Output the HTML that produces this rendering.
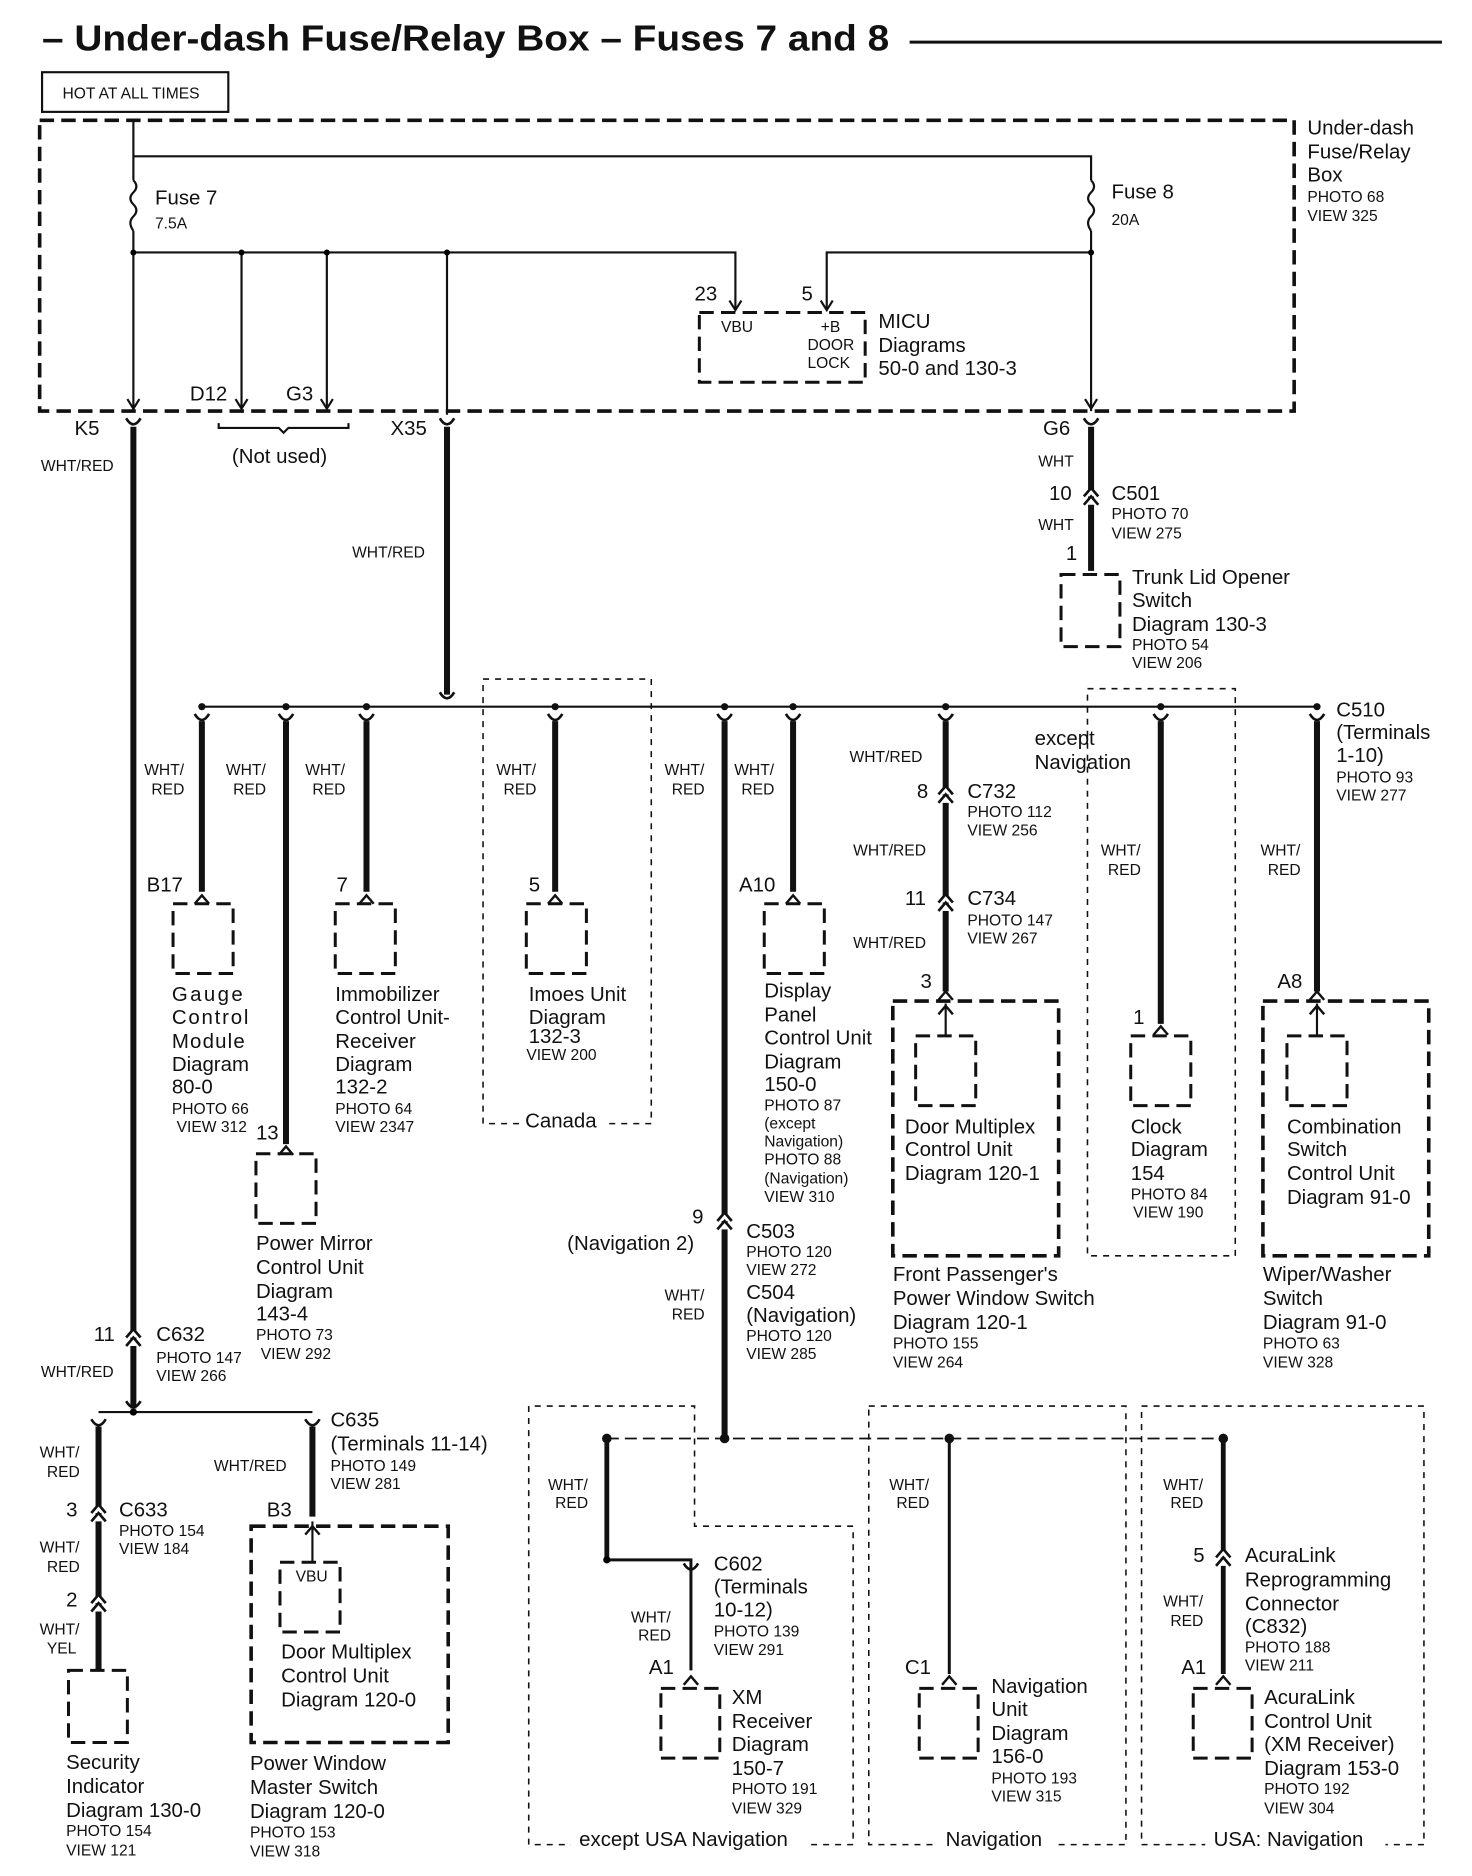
<!DOCTYPE html>
<html><head><meta charset="utf-8"><style>
html,body{margin:0;padding:0;background:#fff}
svg{display:block}
text{font-family:"Liberation Sans",sans-serif;fill:#111}
.t{font-size:17px}.s{font-size:13px}.w{font-size:13px}
.th{stroke:#111;stroke-width:5;fill:none}
.tn{stroke:#111;stroke-width:1.8;fill:none}
.db{stroke:#111;stroke-width:3;fill:none;stroke-dasharray:12 6}
.dd{stroke:#111;stroke-width:1.3;fill:none;stroke-dasharray:5 5}
</style></head><body>
<svg width="1472" height="1876" viewBox="0 0 1225 1561" xmlns="http://www.w3.org/2000/svg">
<defs>
<g id="up"><path d="M-6,4 L0,-3 L6,4" stroke="#111" stroke-width="2" fill="none"/></g>
<g id="dbl"><path d="M-6,1 L0,-6 L6,1 M-6,8 L0,1 L6,8" stroke="#111" stroke-width="2.2" fill="#fff"/></g>
<g id="top"><path d="M-6,-4 Q0,6 6,-4" stroke="#111" stroke-width="2.2" fill="none"/></g>
<g id="arr"><path d="M-5,-8 L0,0 L5,-8" stroke="#111" stroke-width="1.8" fill="none"/></g>
</defs>
<text x="35" y="42" style="font-size:30px;font-weight:bold" textLength="705" lengthAdjust="spacingAndGlyphs">– Under-dash Fuse/Relay Box – Fuses 7 and 8</text>
<line x1="757" y1="35" x2="1200" y2="35" stroke="#111" stroke-width="2.5"/>
<rect x="35" y="60" width="155" height="33" fill="none" stroke="#111" stroke-width="1.8"/>
<text x="52" y="82" class="s">HOT AT ALL TIMES</text>
<rect x="33" y="100" width="1044" height="242" class="db"/>
<text x="1088" y="112" class="t">Under-dash</text><text x="1088" y="132" class="t">Fuse/Relay</text><text x="1088" y="151" class="t">Box</text>
<text x="1088" y="168" class="s">PHOTO 68</text><text x="1088" y="184" class="s">VIEW 325</text>
<path d="M111,100 V150 M111,192 V342 M111,130 H908 V150 M908,192 V342" class="tn"/>
<path d="M111,150 q5,5 0,10 q-5,5 0,10 q5,5 0,10 q-5,5 0,12" class="tn"/>
<path d="M908,150 q5,5 0,10 q-5,5 0,10 q5,5 0,10 q-5,5 0,12" class="tn"/>
<text x="129" y="170" class="t">Fuse 7</text><text x="129" y="190" class="s">7.5A</text>
<text x="925" y="165" class="t">Fuse 8</text><text x="925" y="187" class="s">20A</text>
<path d="M111,210 H372 M201,210 V340 M272,210 V340 M372,210 V345 M372,210 H612 V258 M908,210 H688 V258" class="tn"/>
<circle cx="111" cy="210" r="2.5"/><circle cx="201" cy="210" r="2.5"/><circle cx="272" cy="210" r="2.5"/><circle cx="372" cy="210" r="2.5"/><circle cx="908" cy="210" r="2.5"/>
<use href="#arr" x="111" y="340"/><use href="#arr" x="201" y="340"/><use href="#arr" x="272" y="340"/><use href="#arr" x="908" y="340"/>
<use href="#arr" x="612" y="258"/><use href="#arr" x="688" y="258"/>
<rect x="582" y="260" width="138" height="58" class="db" style="stroke-width:2.5"/>
<text x="578" y="250" class="t">23</text><text x="667" y="250" class="t">5</text>
<text x="600" y="276" class="s">VBU</text><text x="683" y="276" class="s">+B</text><text x="672" y="291" class="s">DOOR</text><text x="672" y="306" class="s">LOCK</text>
<text x="731" y="273" class="t">MICU</text><text x="731" y="293" class="t">Diagrams</text><text x="731" y="312" class="t">50-0 and 130-3</text>
<text x="62" y="362" class="t">K5</text><text x="158" y="333" class="t">D12</text><text x="238" y="333" class="t">G3</text>
<path d="M182,352 v4 h50 l4,4 l4,-4 h50 v-4" class="tn"/>
<text x="193" y="385" class="t">(Not used)</text>
<text x="325" y="362" class="t">X35</text><text x="868" y="362" class="t">G6</text>
<use href="#top" x="111" y="352"/><use href="#top" x="372" y="352"/><use href="#top" x="908" y="352"/>
<path d="M111,355 V1172 M372,355 V578 M908,355 V475" class="th"/>
<text x="34" y="392" class="w">WHT/RED</text><text x="293" y="464" class="w">WHT/RED</text>
<text x="864" y="388" class="w">WHT</text><text x="873" y="416" class="t">10</text><use href="#dbl" x="908" y="412"/>
<text x="925" y="416" class="t">C501</text><text x="925" y="432" class="s">PHOTO 70</text><text x="925" y="448" class="s">VIEW 275</text>
<text x="864" y="441" class="w">WHT</text><text x="887" y="466" class="t">1</text>
<rect x="883" y="478" width="49" height="60" class="db" style="stroke-width:2.5"/>
<text x="942" y="486" class="t">Trunk Lid Opener</text><text x="942" y="505" class="t">Switch</text><text x="942" y="525" class="t">Diagram 130-3</text><text x="942" y="541" class="s">PHOTO 54</text><text x="942" y="556" class="s">VIEW 206</text>
<line x1="168" y1="588" x2="1096" y2="588" stroke="#111" stroke-width="1.8"/>
<use href="#top" x="372" y="580"/>
<g fill="#111"><circle cx="168" cy="588" r="3"/><circle cx="238" cy="588" r="3"/><circle cx="305" cy="588" r="3"/><circle cx="462" cy="588" r="3"/><circle cx="603" cy="588" r="3"/><circle cx="660" cy="588" r="3"/><circle cx="787" cy="588" r="3"/><circle cx="966" cy="588" r="3"/><circle cx="1096" cy="588" r="3"/></g>
<rect x="402" y="565" width="140" height="370" class="dd"/>
<rect x="905" y="573" width="123" height="472" class="dd"/>
<g>
<use href="#top" x="168" y="598"/><use href="#top" x="238" y="598"/><use href="#top" x="305" y="598"/><use href="#top" x="462" y="598"/><use href="#top" x="603" y="598"/><use href="#top" x="660" y="598"/><use href="#top" x="787" y="598"/><use href="#top" x="966" y="598"/><use href="#top" x="1096" y="598"/>
</g>
<path d="M168,600 V742 M238,600 V952 M305,600 V742 M462,600 V742 M603,600 V1197 M660,600 V742 M787,600 V825 M966,600 V852 M1096,600 V825" class="th"/>
<g>
<use href="#up" x="168" y="748"/><use href="#up" x="238" y="957"/><use href="#up" x="305" y="748"/><use href="#up" x="462" y="748"/><use href="#up" x="660" y="748"/><use href="#up" x="787" y="828"/><use href="#up" x="966" y="857"/><use href="#up" x="1096" y="828"/>
</g>
<text x="120" y="645" class="w">WHT/</text><text x="126" y="661" class="w">RED</text>
<text x="188" y="645" class="w">WHT/</text><text x="194" y="661" class="w">RED</text>
<text x="254" y="645" class="w">WHT/</text><text x="260" y="661" class="w">RED</text>
<text x="413" y="645" class="w">WHT/</text><text x="419" y="661" class="w">RED</text>
<text x="553" y="645" class="w">WHT/</text><text x="559" y="661" class="w">RED</text>
<text x="611" y="645" class="w">WHT/</text><text x="617" y="661" class="w">RED</text>
<text x="122" y="742" class="t">B17</text><rect x="144" y="752" width="50" height="58" class="db" style="stroke-width:2.5"/>
<text x="143" y="833" class="t" style="letter-spacing:2px">Gauge</text><text x="143" y="852" class="t" style="letter-spacing:1.5px">Control</text><text x="143" y="872" class="t" style="letter-spacing:1px">Module</text><text x="143" y="891" class="t">Diagram</text><text x="143" y="910" class="t">80-0</text><text x="143" y="927" class="s">PHOTO 66</text><text x="147" y="942" class="s">VIEW 312</text>
<text x="213" y="948" class="t">13</text><rect x="213" y="960" width="50" height="58" class="db" style="stroke-width:2.5"/>
<text x="213" y="1040" class="t">Power Mirror</text><text x="213" y="1060" class="t">Control  Unit</text><text x="213" y="1080" class="t">Diagram</text><text x="213" y="1099" class="t">143-4</text><text x="213" y="1115" class="s">PHOTO 73</text><text x="217" y="1131" class="s">VIEW 292</text>
<text x="280" y="742" class="t">7</text><rect x="279" y="752" width="50" height="58" class="db" style="stroke-width:2.5"/>
<text x="279" y="833" class="t">Immobilizer</text><text x="279" y="852" class="t">Control Unit-</text><text x="279" y="872" class="t">Receiver</text><text x="279" y="891" class="t">Diagram</text><text x="279" y="910" class="t">132-2</text><text x="279" y="927" class="s">PHOTO 64</text><text x="279" y="942" class="s">VIEW 2347</text>
<text x="440" y="742" class="t">5</text><rect x="438" y="752" width="50" height="58" class="db" style="stroke-width:2.5"/>
<text x="440" y="833" class="t">Imoes Unit</text><text x="440" y="852" class="t">Diagram</text><text x="440" y="868" class="t">132-3</text><text x="438" y="882" class="s">VIEW 200</text>
<rect x="432" y="925" width="72" height="18" fill="#fff"/><text x="437" y="938" class="t">Canada</text>
<text x="615" y="742" class="t">A10</text><rect x="636" y="752" width="50" height="58" class="db" style="stroke-width:2.5"/>
<text x="636" y="830" class="t">Display</text><text x="636" y="850" class="t">Panel</text><text x="636" y="869" class="t">Control Unit</text><text x="636" y="889" class="t">Diagram</text><text x="636" y="908" class="t">150-0</text><text x="636" y="924" class="s">PHOTO 87</text><text x="636" y="939" class="s">(except</text><text x="636" y="954" class="s">Navigation)</text><text x="636" y="969" class="s">PHOTO 88</text><text x="636" y="985" class="s">(Navigation)</text><text x="636" y="1000" class="s">VIEW 310</text>
<use href="#dbl" x="603" y="1015"/>
<text x="576" y="1018" class="t">9</text><text x="472" y="1040" class="t">(Navigation 2)</text>
<text x="621" y="1030" class="t">C503</text><text x="621" y="1046" class="s">PHOTO 120</text><text x="621" y="1061" class="s">VIEW 272</text>
<text x="621" y="1081" class="t">C504</text><text x="621" y="1100" class="t">(Navigation)</text><text x="621" y="1116" class="s">PHOTO 120</text><text x="621" y="1131" class="s">VIEW 285</text>
<text x="553" y="1082" class="w">WHT/</text><text x="559" y="1098" class="w">RED</text>
<text x="707" y="634" class="w">WHT/RED</text><use href="#dbl" x="787" y="660"/>
<text x="763" y="664" class="t">8</text><text x="805" y="664" class="t">C732</text><text x="805" y="680" class="s">PHOTO 112</text><text x="805" y="695" class="s">VIEW 256</text>
<text x="710" y="712" class="w">WHT/RED</text><use href="#dbl" x="787" y="750"/>
<text x="753" y="753" class="t">11</text><text x="805" y="753" class="t">C734</text><text x="805" y="770" class="s">PHOTO 147</text><text x="805" y="785" class="s">VIEW 267</text>
<text x="710" y="789" class="w">WHT/RED</text><text x="766" y="822" class="t">3</text>
<rect x="743" y="833" width="138" height="212" class="db"/>
<rect x="762" y="862" width="50" height="58" class="db" style="stroke-width:2.5"/>
<path d="M787,862 V835" class="tn"/><use href="#up" x="787" y="840"/>
<text x="753" y="943" class="t">Door Multiplex</text><text x="753" y="962" class="t">Control Unit</text><text x="753" y="982" class="t">Diagram 120-1</text>
<text x="743" y="1066" class="t">Front Passenger's</text><text x="743" y="1086" class="t">Power Window Switch</text><text x="743" y="1106" class="t">Diagram 120-1</text><text x="743" y="1122" class="s">PHOTO 155</text><text x="743" y="1138" class="s">VIEW 264</text>
<text x="861" y="620" class="t">except</text><text x="861" y="640" class="t">Navigation</text>
<text x="916" y="712" class="w">WHT/</text><text x="922" y="728" class="w">RED</text>
<text x="943" y="852" class="t">1</text><rect x="941" y="862" width="50" height="58" class="db" style="stroke-width:2.5"/>
<text x="941" y="943" class="t">Clock</text><text x="941" y="962" class="t">Diagram</text><text x="941" y="982" class="t">154</text><text x="941" y="998" class="s">PHOTO 84</text><text x="943" y="1013" class="s">VIEW 190</text>
<text x="1112" y="596" class="t">C510</text><text x="1112" y="615" class="t">(Terminals</text><text x="1112" y="634" class="t">1-10)</text><text x="1112" y="651" class="s">PHOTO 93</text><text x="1112" y="666" class="s">VIEW 277</text>
<text x="1049" y="712" class="w">WHT/</text><text x="1055" y="728" class="w">RED</text>
<text x="1063" y="822" class="t">A8</text>
<rect x="1051" y="833" width="138" height="212" class="db"/>
<rect x="1071" y="862" width="50" height="58" class="db" style="stroke-width:2.5"/>
<path d="M1096,862 V835" class="tn"/><use href="#up" x="1096" y="840"/>
<text x="1071" y="943" class="t">Combination</text><text x="1071" y="962" class="t">Switch</text><text x="1071" y="982" class="t">Control Unit</text><text x="1071" y="1002" class="t">Diagram 91-0</text>
<text x="1051" y="1066" class="t">Wiper/Washer</text><text x="1051" y="1086" class="t">Switch</text><text x="1051" y="1106" class="t">Diagram 91-0</text><text x="1051" y="1122" class="s">PHOTO 63</text><text x="1051" y="1138" class="s">VIEW 328</text>
<use href="#dbl" x="111" y="1112"/>
<text x="78" y="1116" class="t">11</text><text x="130" y="1116" class="t">C632</text><text x="130" y="1134" class="s">PHOTO 147</text><text x="130" y="1149" class="s">VIEW 266</text>
<text x="34" y="1146" class="w">WHT/RED</text>
<path d="M82,1175 H260" class="tn"/><circle cx="111" cy="1175" r="3"/><use href="#top" x="111" y="1170"/>
<use href="#top" x="82" y="1185"/><use href="#top" x="260" y="1185"/>
<path d="M82,1187 V1390 M260,1187 V1262" class="th"/>
<text x="33" y="1213" class="w">WHT/</text><text x="39" y="1229" class="w">RED</text>
<use href="#dbl" x="82" y="1258"/><text x="55" y="1262" class="t">3</text>
<text x="99" y="1262" class="t">C633</text><text x="99" y="1278" class="s">PHOTO 154</text><text x="99" y="1293" class="s">VIEW 184</text>
<text x="33" y="1292" class="w">WHT/</text><text x="39" y="1308" class="w">RED</text>
<use href="#dbl" x="82" y="1333"/><text x="55" y="1337" class="t">2</text>
<text x="33" y="1360" class="w">WHT/</text><text x="39" y="1376" class="w">YEL</text>
<rect x="57" y="1390" width="49" height="60" class="db" style="stroke-width:2.5"/>
<text x="55" y="1472" class="t">Security</text><text x="55" y="1492" class="t">Indicator</text><text x="55" y="1512" class="t">Diagram 130-0</text><text x="55" y="1528" class="s">PHOTO 154</text><text x="55" y="1544" class="s">VIEW 121</text>
<text x="275" y="1187" class="t">C635</text><text x="275" y="1207" class="t">(Terminals 11-14)</text><text x="275" y="1224" class="s">PHOTO 149</text><text x="275" y="1239" class="s">VIEW 281</text>
<text x="178" y="1224" class="w">WHT/RED</text>
<text x="222" y="1262" class="t">B3</text>
<rect x="209" y="1270" width="164" height="180" class="db"/>
<rect x="233" y="1300" width="50" height="58" class="db" style="stroke-width:2.5"/>
<path d="M260,1300 V1266" class="tn"/><use href="#up" x="260" y="1273"/>
<text x="246" y="1316" class="s">VBU</text>
<text x="234" y="1380" class="t">Door Multiplex</text><text x="234" y="1400" class="t">Control Unit</text><text x="234" y="1420" class="t">Diagram 120-0</text>
<text x="208" y="1473" class="t">Power    Window</text><text x="208" y="1493" class="t">Master    Switch</text><text x="208" y="1513" class="t">Diagram 120-0</text><text x="208" y="1529" class="s">PHOTO 153</text><text x="208" y="1545" class="s">VIEW 318</text>
<line x1="505" y1="1197" x2="1018" y2="1197" stroke="#111" stroke-width="1.5" stroke-dasharray="10 5"/>
<g fill="#111"><circle cx="505" cy="1197" r="4"/><circle cx="603" cy="1197" r="4"/><circle cx="790" cy="1197" r="4"/><circle cx="1018" cy="1197" r="4"/></g>
<path d="M440,1535 V1170 H578 V1270 H710 V1535 Z" class="dd"/>
<rect x="723" y="1170" width="214" height="365" class="dd"/>
<rect x="950" y="1170" width="235" height="365" class="dd"/>
<rect x="475" y="1522" width="200" height="20" fill="#fff"/><text x="482" y="1536" class="t">except USA Navigation</text>
<rect x="780" y="1522" width="100" height="20" fill="#fff"/><text x="787" y="1536" class="t">Navigation</text>
<rect x="1003" y="1522" width="150" height="20" fill="#fff"/><text x="1010" y="1536" class="t">USA: Navigation</text>
<path d="M505,1197 V1298 M1018,1197 V1393" class="th" style="stroke-width:4"/>
<path d="M505,1298 H575 V1390 M790,1197 V1393" class="tn" style="stroke-width:2.5"/>
<circle cx="505" cy="1298" r="3"/>
<use href="#top" x="575" y="1305"/>
<use href="#up" x="575" y="1398"/><use href="#up" x="790" y="1398"/><use href="#up" x="1018" y="1398"/>
<text x="456" y="1240" class="w">WHT/</text><text x="462" y="1255" class="w">RED</text>
<text x="594" y="1307" class="t">C602</text><text x="594" y="1326" class="t">(Terminals</text><text x="594" y="1345" class="t">10-12)</text><text x="594" y="1362" class="s">PHOTO 139</text><text x="594" y="1377" class="s">VIEW 291</text>
<text x="525" y="1350" class="w">WHT/</text><text x="531" y="1365" class="w">RED</text>
<text x="540" y="1393" class="t">A1</text><rect x="550" y="1405" width="49" height="58" class="db" style="stroke-width:2.5"/>
<text x="609" y="1418" class="t">XM</text><text x="609" y="1438" class="t">Receiver</text><text x="609" y="1457" class="t">Diagram</text><text x="609" y="1477" class="t">150-7</text><text x="609" y="1493" class="s">PHOTO 191</text><text x="609" y="1509" class="s">VIEW 329</text>
<text x="740" y="1240" class="w">WHT/</text><text x="746" y="1255" class="w">RED</text>
<text x="753" y="1393" class="t">C1</text><rect x="765" y="1405" width="49" height="58" class="db" style="stroke-width:2.5"/>
<text x="825" y="1409" class="t">Navigation</text><text x="825" y="1428" class="t">Unit</text><text x="825" y="1448" class="t">Diagram</text><text x="825" y="1467" class="t">156-0</text><text x="825" y="1484" class="s">PHOTO 193</text><text x="825" y="1499" class="s">VIEW 315</text>
<text x="968" y="1240" class="w">WHT/</text><text x="974" y="1255" class="w">RED</text>
<use href="#dbl" x="1018" y="1295"/><text x="993" y="1300" class="t">5</text>
<text x="1036" y="1300" class="t">AcuraLink</text><text x="1036" y="1320" class="t">Reprogramming</text><text x="1036" y="1340" class="t">Connector</text><text x="1036" y="1359" class="t">(C832)</text><text x="1036" y="1375" class="s">PHOTO 188</text><text x="1036" y="1390" class="s">VIEW 211</text>
<text x="968" y="1337" class="w">WHT/</text><text x="974" y="1353" class="w">RED</text>
<text x="983" y="1393" class="t">A1</text><rect x="993" y="1405" width="49" height="58" class="db" style="stroke-width:2.5"/>
<text x="1052" y="1418" class="t">AcuraLink</text><text x="1052" y="1438" class="t">Control Unit</text><text x="1052" y="1457" class="t">(XM Receiver)</text><text x="1052" y="1477" class="t">Diagram 153-0</text><text x="1052" y="1493" class="s">PHOTO 192</text><text x="1052" y="1509" class="s">VIEW 304</text>
</svg>
</body></html>
